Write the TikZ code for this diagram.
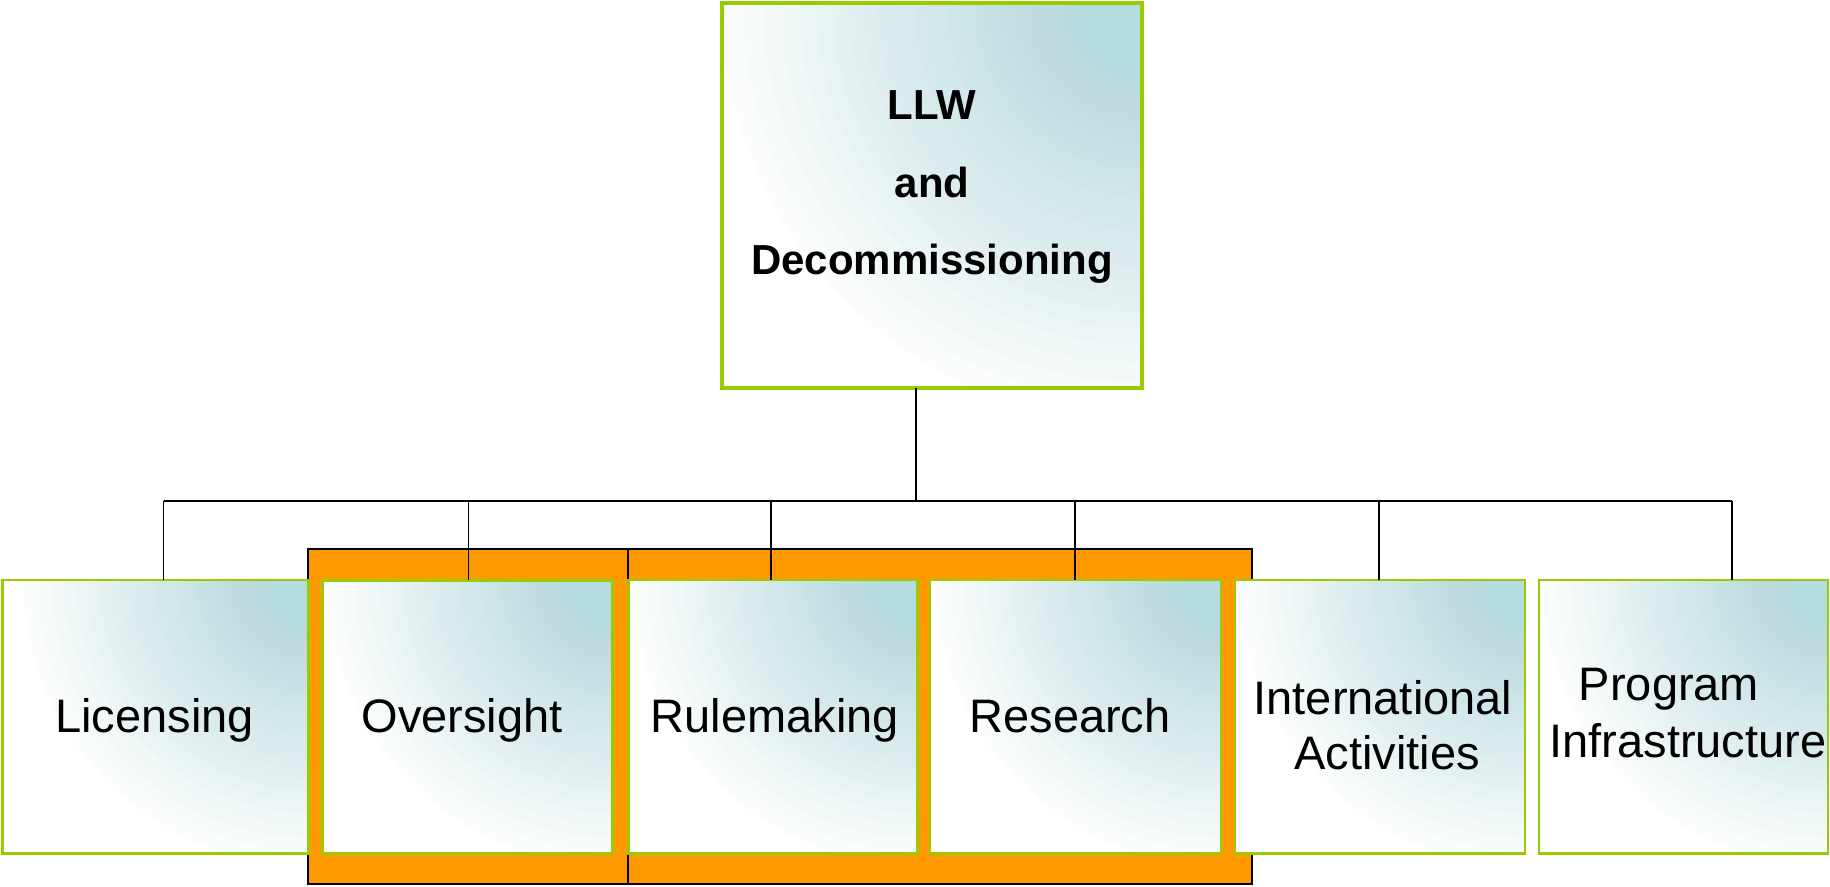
\documentclass[tikz,border=0pt]{standalone}
\usepackage{fontspec}
\setmainfont{Liberation Sans}
\definecolor{tealc}{RGB}{180,219,223}
\definecolor{boxgreen}{RGB}{153,204,0}
\definecolor{frameorange}{RGB}{255,153,0}
\begin{document}
\begin{tikzpicture}[x=1pt,y=-1pt,
  gbox/.style={draw=boxgreen, fill=white, line width=2.5pt, rectangle, inner sep=0pt, outer sep=0pt,
    path picture={\foreach \k in {0,...,44}{\fill[tealc, fill opacity=0.05] (path picture bounding box.north east) circle[radius={#1*0.95^\k}];}}},
  gbox/.default=285pt,
  oframe/.style={draw=black, fill=frameorange, line width=1.6pt, rectangle, inner sep=0pt, outer sep=0pt},
  conn/.style={draw=black, line width=1.5pt},
  lbl/.style={font=\fontsize{47}{56}\selectfont, inner sep=0pt, outer sep=0pt},
  toplbl/.style={font=\fontsize{42}{77.5}\selectfont\bfseries, inner sep=0pt, outer sep=0pt, align=center}
]
\useasboundingbox (0,0) rectangle (1830,886);

% orange frames
\node[oframe, minimum width=320pt, minimum height=335pt] (of1) at (467.7,716.5) {};
\node[oframe, minimum width=624pt, minimum height=335pt] (of2) at (939.7,716.5) {};

% top box
\node[gbox=420pt, line width=4pt, minimum width=420pt, minimum height=384.7pt] (top) at (932,195.3) {};

% lower boxes
\node[gbox, minimum width=306pt, minimum height=273.5pt] (lic) at (155.7,716.75) {};
\node[gbox, minimum width=290pt, minimum height=273pt] (ovs) at (467.7,717) {};
\node[gbox, minimum width=289pt, minimum height=273.5pt] (rul) at (773,716.75) {};
\node[gbox, minimum width=291pt, minimum height=273.5pt] (res) at (1075.5,716.75) {};
\node[gbox, minimum width=290pt, minimum height=273.5pt] (intl) at (1380,716.75) {};
\node[gbox, minimum width=289pt, minimum height=273.5pt] (prog) at (1683.5,716.75) {};

% connectors
\coordinate (bus) at (0,501);
\coordinate (dTop) at (916,387.7);
\coordinate (dLic) at (163.7,580);
\coordinate (dOvs) at (468.3,580);
\coordinate (dRul) at (771,580);
\coordinate (dRes) at (1075,580);
\coordinate (dInt) at (1379,580);
\coordinate (dPrg) at (1732,580);
\draw[conn] (dTop) -- (dTop |- bus);
\draw[conn] (dLic |- bus) -- (dPrg |- bus);
\draw[conn] (dLic |- bus) -- (dLic);
\draw[conn] (dOvs |- bus) -- (dOvs);
\draw[conn] (dRul |- bus) -- (dRul);
\draw[conn] (dRes |- bus) -- (dRes);
\draw[conn] (dInt |- bus) -- (dInt);
\draw[conn] (dPrg |- bus) -- (dPrg);

% texts
\node[toplbl] (topt) at (932,187) {LLW\\and\\Decommissioning};
\node[lbl, anchor=base] (lict) at (154.5,732) {Licensing};
\node[lbl, anchor=base] (ovst) at (462,732) {Oversight};
\node[lbl, anchor=base] (rult) at (775,732) {Rulemaking};
\node[lbl, anchor=base] (rest) at (1070,732) {Research};
\node[lbl, font=\fontsize{47}{55}\selectfont, align=center] (intlt) at (1383,725.5) {International\\\hspace*{8pt}Activities};
\node[lbl, font=\fontsize{47}{56.5}\selectfont, align=center] (progt) at (1688,713) {Program\hspace*{38pt}\\Infrastructure};
\end{tikzpicture}
\end{document}
